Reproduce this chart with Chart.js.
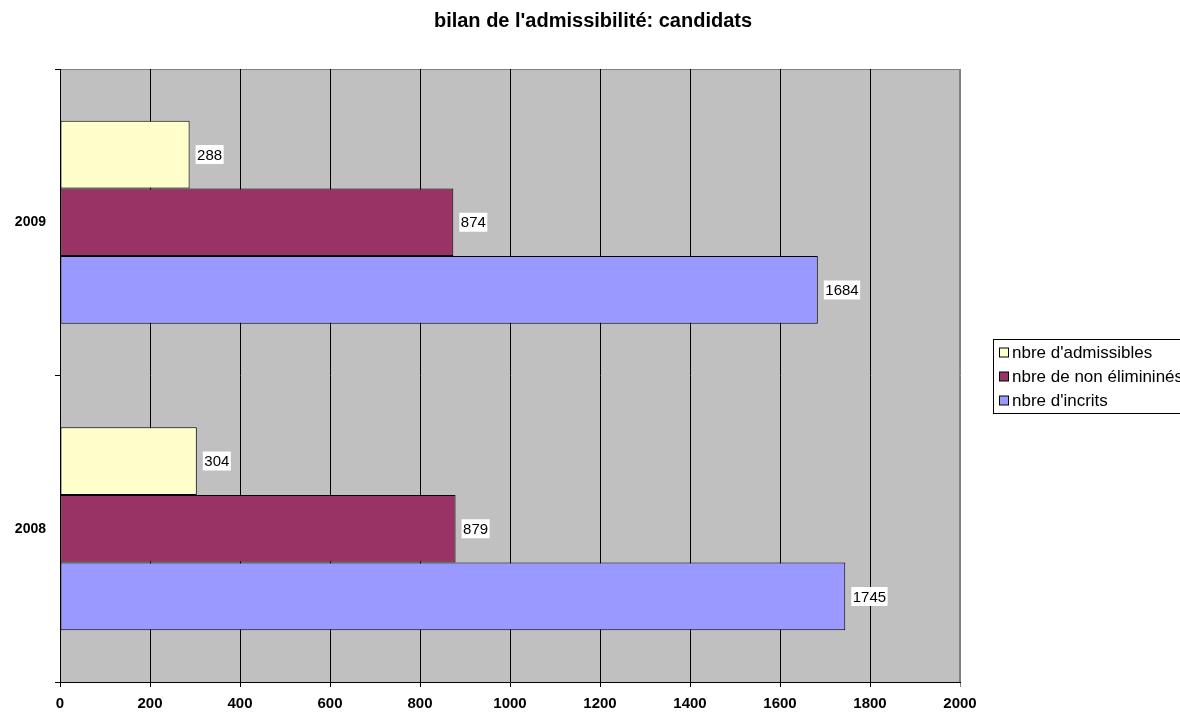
<!DOCTYPE html>
<html>
<head>
<meta charset="utf-8">
<script src="https://cdn.jsdelivr.net/npm/chart.js@4"></script>
<style>
  body { margin: 0; background: #fff; }
  #wrap { width: 1180px; height: 712px; }
</style>
</head>
<body>
<div id="wrap"><canvas id="myChart" width="1180" height="712"></canvas></div>
<script>
// donnees du graphique
const titre = "bilan de l'admissibilité: candidats";
const annees = ["2009", "2008"];
const nomsSeries = ["nbre d'admissibles", "nbre de non élimininés", "nbre d'incrits"];
const admissibles = [288, 304];
const nonElimines = [874, 879];
const inscrits = [1684, 1745];
const couleurs = ["#FFFFCC", "#993366", "#9999FF"];
const xMin = 0;
const xMax = 2000;
const xPas = 200;

const police = "'Liberation Sans', Arial, sans-serif";

// fond gris de la zone de trace
const fondGris = {
  id: "fondGris",
  beforeDraw(chart) {
    const { ctx, chartArea: a } = chart;
    ctx.save();
    ctx.fillStyle = "#C0C0C0";
    ctx.fillRect(a.left, a.top, a.right - a.left, a.bottom - a.top);
    ctx.strokeStyle = "#808080";
    ctx.lineWidth = 1;
    ctx.beginPath();
    ctx.moveTo(a.left, a.top + 0.5);
    ctx.lineTo(a.right - 0.5, a.top + 0.5);
    ctx.lineTo(a.right - 0.5, a.bottom);
    ctx.stroke();
    ctx.restore();
  }
};

// titre, etiquettes et legende
const decor = {
  id: "decor",
  afterDraw(chart) {
    const ctx = chart.ctx;
    ctx.save();

    // titre
    ctx.fillStyle = "#000";
    ctx.font = "bold 20px " + police;
    ctx.textAlign = "center";
    ctx.textBaseline = "alphabetic";
    ctx.fillText(titre, 593, 27);

    // etiquettes de valeurs
    ctx.font = "15px " + police;
    ctx.textAlign = "left";
    ctx.textBaseline = "middle";
    chart.data.datasets.forEach((ds, i) => {
      chart.getDatasetMeta(i).data.forEach((bar, j) => {
        const txt = String(ds.data[j]);
        const w = ctx.measureText(txt).width;
        const x = bar.x + 6;
        ctx.fillStyle = "#fff";
        ctx.fillRect(x, bar.y - 9.5, w + 3, 19);
        ctx.fillStyle = "#000";
        ctx.fillText(txt, x + 1.5, bar.y + 1);
      });
    });

    // legende encadree
    ctx.strokeStyle = "#000";
    ctx.lineWidth = 1;
    ctx.strokeRect(993.5, 339.5, 200, 74);
    chart.data.datasets.forEach((ds, i) => {
      const yc = 352.5 + i * 24;
      ctx.fillStyle = ds.backgroundColor;
      ctx.fillRect(999.5, yc - 4.5, 9, 9);
      ctx.strokeRect(999.5, yc - 4.5, 9, 9);
      ctx.fillStyle = "#000";
      ctx.font = "17px " + police;
      ctx.fillText(ds.label, 1012, yc + 1);
    });

    ctx.restore();
  }
};

const ctx = document.getElementById("myChart");

const datasets = [admissibles, nonElimines, inscrits].map((serie, i) => ({
  label: nomsSeries[i],
  data: serie,
  backgroundColor: couleurs[i],
  borderColor: "#000",
  borderWidth: 1,
  borderSkipped: false,
  barPercentage: 1,
  categoryPercentage: 0.663
}));

new Chart(ctx, {
  type: "bar",
  data: { labels: annees, datasets },
  options: {
    indexAxis: "y",
    responsive: false,
    animation: false,
    layout: { padding: { top: 69, right: 220, left: 0, bottom: 0 } },
    plugins: {
      legend: { display: false },
      title: { display: false },
      tooltip: { enabled: false }
    },
    scales: {
      x: {
        min: xMin,
        max: xMax,
        ticks: {
          stepSize: xPas,
          color: "#000",
          padding: 8,
          font: { family: police, size: 15, weight: "bold" },
          callback: (v) => String(v)
        },
        grid: {
          color: (c) => (c.tick && c.tick.value === xMax ? "#808080" : "#000"),
          tickLength: 5,
          lineWidth: 1
        },
        border: { color: "#000" },
        afterFit(scale) { scale.height = 30; }
      },
      y: {
        ticks: {
          color: "#000",
          padding: 9,
          font: { family: police, size: 14, weight: "bold" }
        },
        grid: {
          drawOnChartArea: false,
          color: "#000",
          tickLength: 5
        },
        border: { color: "#000" },
        afterFit(scale) { scale.width = 60; }
      }
    }
  },
  plugins: [fondGris, decor]
});
</script>
</body>
</html>
